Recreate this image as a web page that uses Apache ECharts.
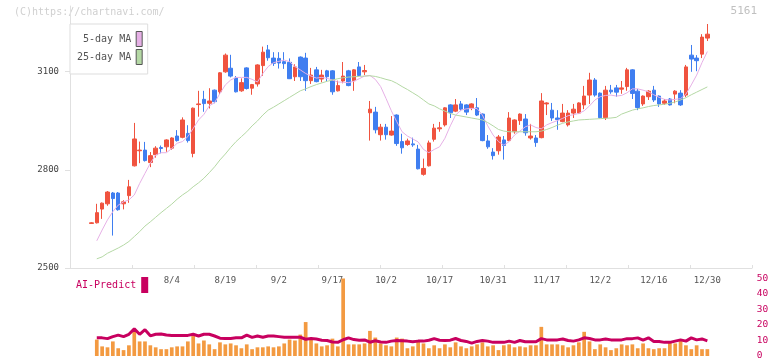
<!DOCTYPE html>
<html><head><meta charset="utf-8">
<script src="https://cdn.jsdelivr.net/npm/echarts@6/dist/echarts.min.js"></script>
<style>html,body{margin:0;padding:0;background:#fff}#c{width:772px;height:361px}</style>
</head><body><div id="c"></div>
<script>
const dates = [
'7/11','7/14','7/15','7/16','7/17','7/18','7/22','7/23','7/24','7/25',
'7/28','7/29','7/30','7/31','8/1','8/4','8/5','8/6','8/7','8/8',
'8/12','8/13','8/14','8/15','8/18','8/19','8/20','8/21','8/22','8/25',
'8/26','8/27','8/28','8/29','9/1','9/2','9/3','9/4','9/5','9/8',
'9/9','9/10','9/11','9/12','9/16','9/17','9/18','9/19','9/22','9/24',
'9/25','9/26','9/29','9/30','10/1','10/2','10/3','10/6','10/7','10/8',
'10/9','10/10','10/14','10/15','10/16','10/17','10/20','10/21','10/22','10/23',
'10/24','10/27','10/28','10/29','10/30','10/31','11/4','11/5','11/6','11/7',
'11/10','11/11','11/12','11/13','11/14','11/17','11/18','11/19','11/20','11/21',
'11/25','11/26','11/27','11/28','12/1','12/2','12/3','12/4','12/5','12/8',
'12/9','12/10','12/11','12/12','12/15','12/16','12/17','12/18','12/19','12/22',
'12/23','12/24','12/25','12/26','12/29','12/30'];
const padBefore = ['7/7','7/8','7/9','7/10'];
const padAfter = ['1/5','1/6','1/7','1/8','1/9','1/13','1/14','1/15'];

const opens = [
2636,2638,2680,2696,2729,2729,2696,2721,2812,2858,
2860,2822,2846,2868,2870,2866,2903,2899,2911,2850,
2999,3015,3003,3043,3038,3099,3110,3080,3041,3111,
3049,3062,3118,3166,3141,3140,3130,3128,3084,3144,
3141,3072,3105,3077,3102,3102,3041,3071,3102,3072,
3114,3099,2974,2976,2907,2930,2906,2967,2886,2877,
2879,2863,2786,2812,2893,2925,2937,2998,2979,3001,
2998,2989,2989,2970,2888,2854,2858,2891,2889,2916,
2950,2955,2897,2897,2898,3001,2982,2958,2947,2937,
2973,2973,2998,3028,3074,3034,2959,3043,3050,3046,
3054,3105,3040,3001,3023,3043,3025,3003,3016,3031,
3034,3028,3150,3141,3153,3202];
const closes = [
2638,2669,2698,2732,2712,2678,2702,2748,2894,2860,
2828,2843,2866,2865,2891,2897,2889,2952,2889,2988,
3001,3002,3010,3008,3096,3150,3086,3038,3066,3048,
3060,3120,3159,3142,3125,3126,3124,3078,3114,3084,
3072,3089,3069,3089,3084,3038,3057,3086,3057,3105,
3088,3103,2985,2922,2930,2907,2918,2880,2867,2888,
2876,2803,2804,2882,2927,2928,2989,2974,2998,2985,
2976,3001,2967,2889,2870,2843,2900,2874,2958,2952,
2970,2913,2903,2883,3010,3004,2958,2953,2973,2973,
2985,3004,3025,3074,3028,2959,3043,3038,3037,3050,
3105,3033,2990,3025,3040,3013,3001,3010,2998,3040,
2998,3114,3138,3133,3205,3214];
const lows = [
2635,2636,2650,2690,2599,2675,2679,2699,2810,2820,
2825,2808,2837,2850,2855,2861,2886,2896,2883,2838,
2962,2977,2987,3003,3031,3096,3082,3036,3038,3045,
3029,3054,3087,3133,3117,3109,3108,3077,3071,3071,
3041,3062,3067,3067,3071,3029,3039,3064,3055,3041,
3086,3089,2889,2911,2889,2892,2904,2873,2849,2873,
2870,2801,2782,2810,2886,2916,2932,2958,2976,2979,
2967,2982,2964,2887,2864,2831,2846,2831,2887,2910,
2937,2904,2892,2870,2896,2967,2949,2922,2945,2932,
2958,2970,2985,3001,3023,2957,2952,3032,3023,3032,
3041,3016,2982,2995,3013,3007,2992,2998,2996,3003,
2995,3022,3099,3101,3141,3193];
const highs = [
2640,2696,2700,2735,2732,2732,2707,2769,2943,2886,
2885,2854,2872,2874,2893,2899,2921,2960,2936,2990,
3041,3041,3049,3045,3098,3155,3151,3086,3079,3113,
3062,3122,3176,3181,3159,3159,3159,3140,3122,3146,
3157,3111,3114,3105,3105,3104,3072,3129,3105,3107,
3129,3120,3010,2992,2940,2940,2964,2969,2910,2895,
2898,2876,2834,2889,2940,2946,2991,3000,3016,3010,
3000,3003,3019,2972,2906,2866,2906,2903,2976,2954,
2972,2970,2940,2906,3034,3006,3004,2982,3001,2982,
3001,3006,3056,3096,3080,3036,3056,3059,3059,3071,
3111,3107,3047,3027,3043,3056,3027,3016,3019,3043,
3043,3120,3181,3150,3214,3245];
const ma5 = [
null,2583,2616,2647,2672,2692,2702,2708,2723,2758,
2789,2820,2845,2852,2852,2865,2881,2886,2901,2926,
2952,2969,2995,3005,3033,3059,3074,3082,3082,3082,
3076,3068,3094,3115,3127,3131,3135,3130,3115,3105,
3094,3086,3080,3082,3079,3074,3068,3067,3066,3070,
3078,3086,3088,3076,3054,3018,2980,2947,2916,2903,
2894,2885,2862,2852,2862,2870,2896,2934,2967,2982,
2986,2987,2987,2967,2934,2906,2886,2875,2886,2906,
2918,2931,2937,2929,2925,2937,2944,2950,2957,2965,
2968,2972,2980,2995,3013,3023,3027,3028,3025,3027,
3035,3047,3047,3043,3038,3029,3021,3015,3013,3015,
3017,3031,3059,3089,3127,3161];
const ma25 = [
null,2528,2534,2545,2553,2561,2570,2581,2596,2611,
2628,2641,2655,2669,2682,2695,2710,2723,2734,2748,
2760,2774,2791,2809,2830,2848,2868,2886,2901,2916,
2934,2949,2967,2982,2991,3001,3011,3021,3031,3041,
3047,3054,3060,3065,3070,3074,3078,3081,3083,3084,
3085,3086,3087,3085,3081,3076,3072,3064,3054,3045,
3035,3025,3013,3001,2995,2986,2979,2972,2967,2964,
2961,2958,2955,2952,2944,2934,2923,2918,2916,2916,
2916,2916,2916,2916,2918,2923,2929,2936,2942,2946,
2949,2952,2953,2954,2955,2956,2957,2958,2960,2970,
2976,2982,2986,2989,2993,2996,2998,3000,3003,3007,
3013,3020,3029,3037,3045,3053];
const volume = [
null,10.6,6.2,5.6,9.4,5.0,3.8,6.9,15.6,9.4,
9.4,6.9,5.6,4.4,4.4,5.6,6.2,6.2,9.4,13.1,
8.1,10.0,7.5,4.4,8.8,7.5,8.1,6.9,5.0,7.5,
4.4,5.6,5.6,6.2,5.6,6.2,8.1,10.6,10.0,13.8,
21.9,11.2,8.1,6.2,6.9,11.2,6.2,50,7.5,7.5,
7.5,8.1,16.2,11.9,8.1,6.9,6.2,11.9,11.2,5.0,
6.2,9.4,8.1,5.0,6.9,5.0,7.5,5.6,8.8,6.2,
5.0,6.2,7.5,8.8,6.2,6.9,3.8,6.9,7.5,5.6,
6.2,5.6,6.9,6.9,18.8,7.5,7.5,7.5,6.9,5.6,
6.9,8.8,15.6,9.4,4.4,7.5,5.6,3.8,5.0,7.5,
6.9,7.5,5.0,8.1,5.0,4.4,5.0,5.0,8.8,8.1,
10.6,6.9,4.4,6.9,4.4,4.4];
const aiPredict = [
null,11.7,11.7,11.2,12.5,13.5,12.5,14.0,17.5,14.0,
17.0,13.0,14.0,14.2,13.5,13.3,13.3,13.3,13.3,14.0,
12.9,14.0,14.0,12.9,11.5,11.3,11.3,11.7,11.7,13.5,
12.0,12.9,12.1,12.9,12.9,12.5,12.1,12.1,12.1,12.1,
10.8,11.3,11.0,10.2,10.0,9.0,8.8,10.5,11.7,10.6,
10.2,10.4,8.9,9.8,9.0,8.8,9.6,10.0,9.8,9.6,
9.2,9.6,9.6,10.2,11.2,10.2,10.0,10.2,11.3,10.0,
9.4,8.3,9.4,10.0,9.6,8.8,8.8,8.8,9.6,8.8,
10.0,9.2,9.2,9.2,11.2,10.4,10.4,10.4,11.0,10.0,
9.6,10.4,11.7,11.3,10.4,10.4,11.0,10.4,10.4,10.4,
11.2,11.2,11.7,10.2,11.7,9.4,9.4,8.8,8.8,9.6,
10.4,9.6,11.7,10.4,11.0,9.8];
const priceTicks = {min: 2500, max: 3300, interval: 300};
const volTicks = {min: 0, max: 50, interval: 10};

const MONO = 'DejaVu Sans Mono';
const UP = '#f0533f', DOWN = '#3f7ef0';
const PINK = '#e6b0e6', GREEN = '#b4d8a4', CRIMSON = '#c8005f', ORANGE = '#f39a41';
const off = padBefore.length;
const cats = padBefore.concat(dates, padAfter);
const padSeries = arr => padBefore.map(() => '-').concat(arr.map(v => v == null ? '-' : v));
const candleData = dates.map((d, i) => [i + off, opens[i], closes[i], lows[i], highs[i]]);
const labelIdx = (idx) => idx >= off + 15 && idx < off + dates.length && (idx - off - 15) % 10 === 0;

const chart = echarts.init(document.getElementById('c'), null, {renderer: 'canvas'});
chart.setOption({
  animation: false,
  grid: [
    {left: 70, right: 21.8, top: 6, height: 262},
    {left: 70, right: 20, top: 6, height: 262},
    {left: 70, right: 21.8, top: 278.5, height: 80.5}
  ],
  xAxis: [
    {type: 'category', gridIndex: 0, data: cats, boundaryGap: false,
     axisLine: {show: false}, axisTick: {show: false}, splitLine: {show: false},
     axisLabel: {interval: labelIdx, margin: 8, fontSize: 9, color: '#555', fontFamily: MONO}},
    {type: 'value', gridIndex: 1, min: 0, max: 11, interval: 1,
     axisLine: {show: true, lineStyle: {color: '#e0e0e0'}},
     axisTick: {show: true, inside: true, length: 3, lineStyle: {color: '#e0e0e0'}},
     axisLabel: {show: false}, splitLine: {show: false}},
    {type: 'category', gridIndex: 2, data: cats, boundaryGap: false, show: false}
  ],
  yAxis: [
    {type: 'value', gridIndex: 0, min: priceTicks.min, max: priceTicks.max, interval: priceTicks.interval,
     axisLine: {show: true, lineStyle: {color: '#e0e0e0'}},
     axisTick: {show: true, length: 5, lineStyle: {color: '#e0e0e0'}},
     splitLine: {show: false},
     axisLabel: {showMaxLabel: false, fontSize: 9, color: '#444', fontFamily: MONO, margin: 11,
                 formatter: v => String(v)}},
    {type: 'value', gridIndex: 1, show: false, min: 0, max: 1},
    {type: 'value', gridIndex: 2, position: 'right', min: volTicks.min, max: volTicks.max, interval: volTicks.interval,
     axisLine: {show: false}, axisTick: {show: false}, splitLine: {show: false},
     axisLabel: {color: CRIMSON, fontSize: 9.5, fontFamily: MONO, margin: 6.5}}
  ],
  legend: [
    {data: ['5-day MA', '25-day MA'], orient: 'vertical', left: 70, top: 24, align: 'right',
     icon: 'rect', itemWidth: 6, itemHeight: 15, itemGap: 2,
     padding: [7, 5, 9, 7], borderColor: '#ddd', borderWidth: 1, backgroundColor: '#fff',
     itemStyle: {borderColor: '#555', borderWidth: 1},
     formatter: n => n === '5-day MA' ? ' ' + n : n,
     textStyle: {fontSize: 10, color: '#555', fontFamily: MONO}},
    {data: ['AI-Predict'], orient: 'horizontal', left: 76, top: 277, align: 'right',
     icon: 'rect', itemWidth: 7, itemHeight: 16, padding: 0,
     textStyle: {fontSize: 10, color: CRIMSON, fontFamily: MONO}}
  ],
  graphic: [
    {type: 'text', left: 14, top: 7, style: {text: '(C)https://chartnavi.com/', fill: '#d0d0d0', font: '10px "DejaVu Sans Mono"'}},
    {type: 'text', right: 15, top: 6, style: {text: '5161', fill: '#c0c0c0', font: '11px "DejaVu Sans Mono"'}}
  ],
  series: [
    {name: 'price', type: 'candlestick', xAxisIndex: 0, yAxisIndex: 0, data: candleData,
     encode: {x: 0, y: [1, 2, 3, 4]}, barWidth: 4,
     itemStyle: {color: UP, color0: DOWN, borderColor: UP, borderColor0: DOWN, borderWidth: 1}},
    {name: '5-day MA', type: 'line', xAxisIndex: 0, yAxisIndex: 0, data: padSeries(ma5),
     showSymbol: false, lineStyle: {color: PINK, width: 1}, itemStyle: {color: PINK}, z: 3},
    {name: '25-day MA', type: 'line', xAxisIndex: 0, yAxisIndex: 0, data: padSeries(ma25),
     showSymbol: false, lineStyle: {color: GREEN, width: 1}, itemStyle: {color: GREEN}, z: 3},
    {name: 'volume', type: 'bar', xAxisIndex: 2, yAxisIndex: 2, data: padSeries(volume),
     barWidth: 3.7, itemStyle: {color: ORANGE}},
    {name: 'AI-Predict', type: 'line', xAxisIndex: 2, yAxisIndex: 2, data: padSeries(aiPredict),
     showSymbol: false, lineStyle: {color: CRIMSON, width: 3}, itemStyle: {color: CRIMSON}, z: 4}
  ]
});
</script></body></html>
